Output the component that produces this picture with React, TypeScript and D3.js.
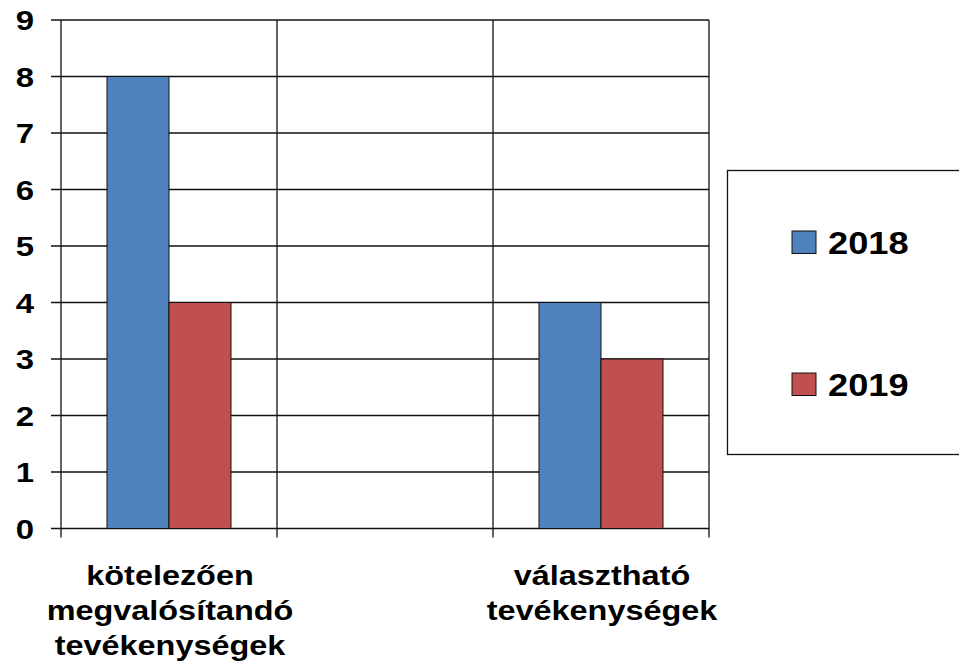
import React, { useEffect, useRef } from 'react';
import * as d3 from 'd3';

// chart data
const categories = ['kotelezo', 'ures', 'valaszthato'];
const categoryLines = [
  ['kötelezően', 'megvalósítandó', 'tevékenységek'],
  [],
  ['választható', 'tevékenységek'],
];
const seriesNames = ['2018', '2019'];
const values2018 = [8, null, 4];
const values2019 = [4, null, 3];
const yTicks = [0, 1, 2, 3, 4, 5, 6, 7, 8, 9];
const colors = ['#4F81BD', '#C0504D'];

const W = 959;
const H = 665;
const FONT = 'Arial, "Liberation Sans", sans-serif';

const App = () => {
  const svgRef = useRef<SVGSVGElement>(null);

  useEffect(() => {
    const svg = d3.select(svgRef.current);
    svg.selectAll('*').remove();

    const plot = { left: 61, top: 20, right: 709, bottom: 528.5 };

    const x = d3.scaleBand<string>()
      .domain(categories)
      .range([plot.left, plot.right])
      .padding(0);

    const xInner = d3.scaleBand<string>()
      .domain(seriesNames)
      .range([0, x.bandwidth()])
      .paddingInner(0)
      .paddingOuter(0.742);

    const y = d3.scaleLinear()
      .domain([0, 9])
      .range([plot.bottom, plot.top]);

    svg.append('rect')
      .attr('width', W).attr('height', H).attr('fill', '#ffffff');

    // horizontal grid
    svg.append('g')
      .selectAll('line')
      .data(yTicks)
      .enter().append('line')
      .attr('x1', plot.left - 10)
      .attr('x2', plot.right)
      .attr('y1', d => y(d))
      .attr('y2', d => y(d))
      .attr('stroke', '#111')
      .attr('stroke-width', 1.3);

    // vertical grid + category ticks
    const bounds = categories.map(c => x(c) as number).concat([plot.right]);
    svg.append('g')
      .selectAll('line')
      .data(bounds)
      .enter().append('line')
      .attr('x1', d => d)
      .attr('x2', d => d)
      .attr('y1', plot.top)
      .attr('y2', plot.bottom + 9)
      .attr('stroke', '#111')
      .attr('stroke-width', 1.3);

    // bars
    const series = [values2018, values2019];
    series.forEach((vals, si) => {
      svg.append('g')
        .selectAll('rect')
        .data(vals.map((v, i) => ({ v, c: categories[i] })).filter(d => d.v != null))
        .enter().append('rect')
        .attr('x', d => (x(d.c) as number) + (xInner(seriesNames[si]) as number))
        .attr('y', d => y(d.v as number))
        .attr('width', xInner.bandwidth())
        .attr('height', d => y(0) - y(d.v as number))
        .attr('fill', colors[si])
        .attr('stroke', '#111')
        .attr('stroke-width', 1);
    });

    // the source font is a horizontally stretched Arial, so scale x
    const stretched = (parent, tx, ty, sx, size, anchor, txt) => {
      parent.append('g')
        .attr('transform', `translate(${tx},${ty}) scale(${sx},1)`)
        .append('text')
        .attr('text-anchor', anchor)
        .style('font-family', FONT)
        .style('font-weight', 'bold')
        .style('font-size', `${size}px`)
        .text(txt);
    };

    // y tick labels
    const yl = svg.append('g');
    yTicks.forEach(t => stretched(yl, 34, y(t) + 10, 1.22, 27, 'end', String(t)));

    // category labels
    categories.forEach((c, i) => {
      const cx = (x(c) as number) + x.bandwidth() / 2;
      categoryLines[i].forEach((line, li) => {
        stretched(svg, cx + 1, 585 + li * 35, 1.2, 27, 'middle', line);
      });
    });

    // legend
    const lg = svg.append('g');
    lg.append('rect')
      .attr('x', 727.5).attr('y', 170.5)
      .attr('width', 260).attr('height', 284)
      .attr('fill', '#ffffff')
      .attr('stroke', '#111')
      .attr('stroke-width', 1.3);
    seriesNames.forEach((name, i) => {
      const yy = 231 + i * 142;
      lg.append('rect')
        .attr('x', 792).attr('y', yy)
        .attr('width', 24).attr('height', 22.5)
        .attr('fill', colors[i])
        .attr('stroke', '#111')
        .attr('stroke-width', 1);
      stretched(lg, 828, yy + 22.5, 1.15, 31.5, 'start', name);
    });
  }, []);

  return (
    <svg
      ref={svgRef}
      width={W}
      height={H}
      style={{ position: 'absolute', left: 0, top: 0, display: 'block' }}
    />
  );
};

export default App;
